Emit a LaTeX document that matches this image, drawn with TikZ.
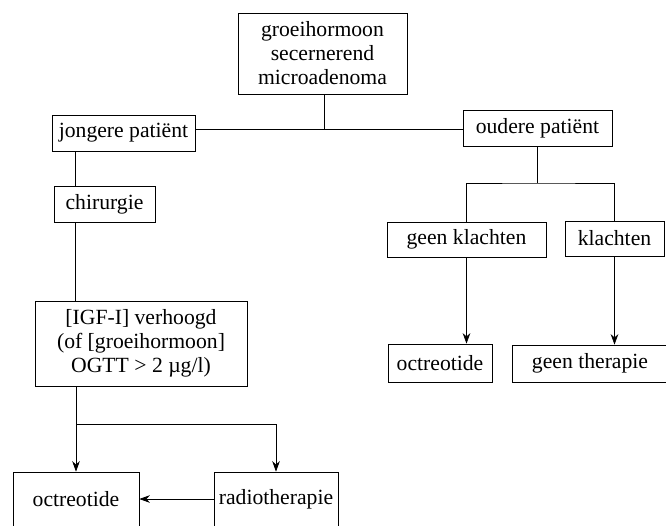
\documentclass[tikz,border=0pt]{standalone}
\usepackage{fontspec}
\setmainfont{Liberation Serif}
\usetikzlibrary{arrows.meta}

\begin{document}
\begin{tikzpicture}[x=0.03cm, y=-0.03cm,
  font=\fontsize{18.5}{20.5}\selectfont,
  line width=0.6pt,
  box/.style={draw, inner sep=0pt, align=center},
  arr/.style={-{Stealth[length=9pt, width=6.5pt]}}]
\useasboundingbox (0,0) rectangle (666,525);
\clip (0,0) rectangle (666,525);

\node[box, minimum width=169*0.03cm, minimum height=81*0.03cm] (adenoom) at (322.5,53.5) {groeihormoon\\secernerend\\microadenoma};
\node[box, minimum width=143*0.03cm, minimum height=36*0.03cm] (jong) at (123.5,133) {jongere patiënt};
\node[box, minimum width=149*0.03cm, minimum height=36*0.03cm] (oud) at (537.5,128) {oudere patiënt};
\node[box, minimum width=101*0.03cm, minimum height=36*0.03cm] (chir) at (104.5,204) {chirurgie};
\node[box, minimum width=212*0.03cm, minimum height=85*0.03cm] (igf) at (141,343.5) {[IGF-I] verhoogd\\(of [groeihormoon]\\OGTT > 2 µg/l)};
\node[box, minimum width=126*0.03cm, minimum height=54*0.03cm] (octL) at (76,499) {octreotide};
\node[box, minimum width=124*0.03cm, minimum height=54*0.03cm] (radio) at (276,499) {radiotherapie};
\node[box, minimum width=159*0.03cm, minimum height=35*0.03cm] (geenk) at (466.5,239.5) {geen klachten};
\node[box, minimum width=99*0.03cm, minimum height=35*0.03cm] (klacht) at (614.5,238.5) {klachten};
\node[box, minimum width=104*0.03cm, minimum height=38*0.03cm] (octR) at (440,363) {octreotide};
\node[box, minimum width=156*0.03cm, minimum height=37*0.03cm] (geent) at (590,363.5) {geen therapie};

\coordinate (split) at (324,129);
\coordinate (lx) at (75.5,0);
\coordinate (fork) at (76,424);
\coordinate (fork2) at (537,183);

% bovenste splitsing
\draw (adenoom.south -| split) -- (split);
\draw (jong.east |- split) -- (oud.west |- split);

% jongere patient
\draw (jong.south -| lx) -- (chir.north -| lx);
\draw (chir.south -| lx) -- (igf.north -| lx);
\draw (igf.south -| fork) -- (fork);
\draw[arr] (fork) -- (octL.north -| fork);
\draw[arr] (fork) -| (radio.north);
\draw[arr] (radio.west) -- (octL.east);

% oudere patient
\draw (oud.south) -- (oud.south |- fork2);
\draw (geenk.north) |- (fork2) -| (klacht.north);
\draw[arr] (geenk.south) -- (geenk.south |- octR.north);
\draw[arr] (klacht.south) -- (klacht.south |- geent.north);

\end{tikzpicture}
\end{document}
